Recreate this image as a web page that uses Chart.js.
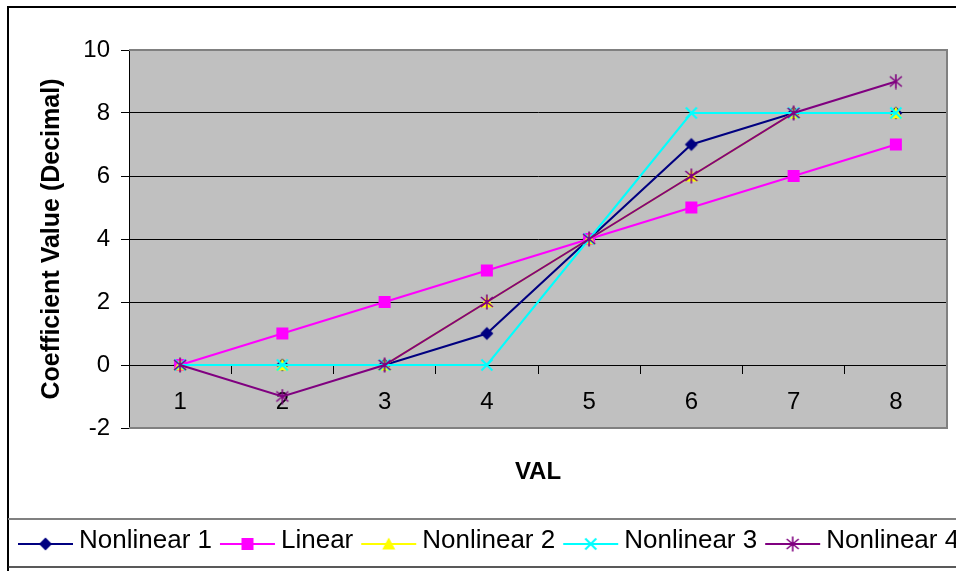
<!DOCTYPE html>
<html>
<head>
<meta charset="utf-8">
<script src="https://cdn.jsdelivr.net/npm/chart.js@4/dist/chart.umd.min.js"></script>
<style>
  body { margin: 0; background: #fff; }
  #wrap { width: 956px; height: 571px; position: relative; }
</style>
</head>
<body>
<div id="wrap"><canvas id="chart"></canvas></div>
<script>
// chart data
const categories = ['1', '2', '3', '4', '5', '6', '7', '8'];
const nonlinear1 = [0, 0, 0, 1, 4, 7, 8, 8];
const linear = [0, 1, 2, 3, 4, 5, 6, 7];
const nonlinear2 = [0, 0, 0, 2, 4, 6, 8, 8];
const nonlinear3 = [0, 0, 0, 0, 4, 8, 8, 8];
const nonlinear4 = [0, -1, 0, 2, 4, 6, 8, 9];
const yTicks = { min: -2, max: 10, step: 2 };

const FONT = '"Liberation Sans", Arial, sans-serif';

// excel style markers as little canvases, used by the datasets and the legend
function makeMarker(kind, color) {
    const c = document.createElement('canvas');
    c.width = 16;
    c.height = 16;
    const g = c.getContext('2d');
    g.fillStyle = color;
    g.strokeStyle = color;
    g.translate(8, 8);
    g.beginPath();
    if (kind === 'diamond') {
        g.moveTo(0, -6.5); g.lineTo(6.5, 0); g.lineTo(0, 6.5); g.lineTo(-6.5, 0);
        g.closePath();
        g.fill();
    } else if (kind === 'square') {
        g.fillRect(-6, -6, 12, 12);
    } else if (kind === 'triangle') {
        g.moveTo(0, -6.5); g.lineTo(6.5, 5.5); g.lineTo(-6.5, 5.5);
        g.closePath();
        g.fill();
    } else if (kind === 'x') {
        g.lineWidth = 2;
        g.moveTo(-5.5, -5.5); g.lineTo(5.5, 5.5);
        g.moveTo(5.5, -5.5); g.lineTo(-5.5, 5.5);
        g.stroke();
    } else if (kind === 'star') {
        g.lineWidth = 1.6;
        g.moveTo(-6, -5); g.lineTo(6, 5);
        g.moveTo(6, -5); g.lineTo(-6, 5);
        g.moveTo(0, -7.5); g.lineTo(0, 7.5);
        g.stroke();
    }
    return c;
}

const series = [
    { label: 'Nonlinear 1', data: nonlinear1, color: '#000080', marker: 'diamond' },
    { label: 'Linear', data: linear, color: '#FF00FF', marker: 'square' },
    { label: 'Nonlinear 2', data: nonlinear2, color: '#FFFF00', marker: 'triangle' },
    { label: 'Nonlinear 3', data: nonlinear3, color: '#00FFFF', marker: 'x' },
    { label: 'Nonlinear 4', data: nonlinear4, color: '#800080', marker: 'star' },
];
series.forEach(s => { s.img = makeMarker(s.marker, s.color); });

const frame = {
    id: 'frame',
    beforeDraw(chart) {
        const { ctx, chartArea: a } = chart;
        ctx.save();
        ctx.fillStyle = '#C0C0C0';
        ctx.fillRect(a.left, a.top, a.right - a.left, a.bottom - a.top);
        ctx.restore();
    },
    beforeDatasetsDraw(chart) {
        const { ctx, chartArea: a } = chart;
        ctx.save();
        ctx.strokeStyle = '#808080';
        ctx.lineWidth = 2;
        ctx.beginPath();
        ctx.moveTo(a.left, a.top);
        ctx.lineTo(a.right, a.top);
        ctx.lineTo(a.right, a.bottom);
        ctx.lineTo(a.left, a.bottom);
        ctx.stroke();
        ctx.restore();
    },
    afterDraw(chart) {
        const ctx = chart.ctx;
        const w = chart.width;
        ctx.save();
        // outer chart border
        ctx.strokeStyle = '#000';
        ctx.lineWidth = 2;
        ctx.beginPath();
        ctx.moveTo(w, 7);
        ctx.lineTo(8, 7);
        ctx.lineTo(8, chart.height);
        ctx.stroke();

        // legend box
        ctx.strokeStyle = '#808080';
        ctx.beginPath();
        ctx.moveTo(8, 519);
        ctx.lineTo(w, 519);
        ctx.stroke();
        ctx.strokeStyle = '#222';
        ctx.lineWidth = 1.5;
        ctx.beginPath();
        ctx.moveTo(8, 567);
        ctx.lineTo(w, 567);
        ctx.stroke();

        // legend entries
        ctx.font = '26px ' + FONT;
        ctx.textBaseline = 'middle';
        ctx.fillStyle = '#000';
        let x = 18;
        const y = 544;
        for (const s of series) {
            ctx.strokeStyle = s.color;
            ctx.lineWidth = 2;
            ctx.beginPath();
            ctx.moveTo(x, y);
            ctx.lineTo(x + 55, y);
            ctx.stroke();
            ctx.drawImage(s.img, x + 27.5 - 8, y - 8);
            ctx.fillText(s.label, x + 61, y - 3);
            x += 61 + ctx.measureText(s.label).width + 8;
        }
        ctx.restore();
    }
};

new Chart('chart', {
    type: 'line',
    data: {
        labels: categories,
        datasets: series.map((s, i) => ({
            label: s.label,
            data: s.data,
            borderColor: s.color,
            backgroundColor: s.color,
            borderWidth: 2,
            pointStyle: s.img,
            pointRadius: 7,
            tension: 0,
            order: series.length - i,
        })),
    },
    options: {
        responsive: true,
        maintainAspectRatio: false,
        animation: false,
        events: [],
        layout: {
            padding: { left: 0, top: 50, right: 9, bottom: 143 },
        },
        scales: {
            x: {
                position: { y: 0 },
                offset: true,
                grid: {
                    offset: true,
                    drawOnChartArea: false,
                    tickLength: 8,
                    color: '#000',
                },
                border: { color: '#000', width: 1 },
                ticks: {
                    font: { family: FONT, size: 24 },
                    color: '#000',
                    padding: 15,
                    maxRotation: 0,
                },
                title: {
                    display: true,
                    text: 'VAL',
                    color: '#000',
                    font: { family: FONT, size: 24, weight: 'bold' },
                    padding: { top: 26, bottom: 0 },
                },
            },
            y: {
                min: yTicks.min,
                max: yTicks.max,
                ticks: {
                    stepSize: yTicks.step,
                    font: { family: FONT, size: 24 },
                    color: '#000',
                    padding: 11,
                },
                grid: { color: '#000', tickLength: 8 },
                border: { color: '#000', width: 1 },
                title: {
                    display: true,
                    text: 'Coefficient Value (Decimal)',
                    color: '#000',
                    font: { family: FONT, size: 25, weight: 'bold' },
                    padding: { top: 37, bottom: 0 },
                },
                afterFit(scale) {
                    scale.width = 129;
                },
            },
        },
        plugins: {
            legend: { display: false },
            tooltip: { enabled: false },
        },
    },
    plugins: [frame],
});
</script>
</body>
</html>
